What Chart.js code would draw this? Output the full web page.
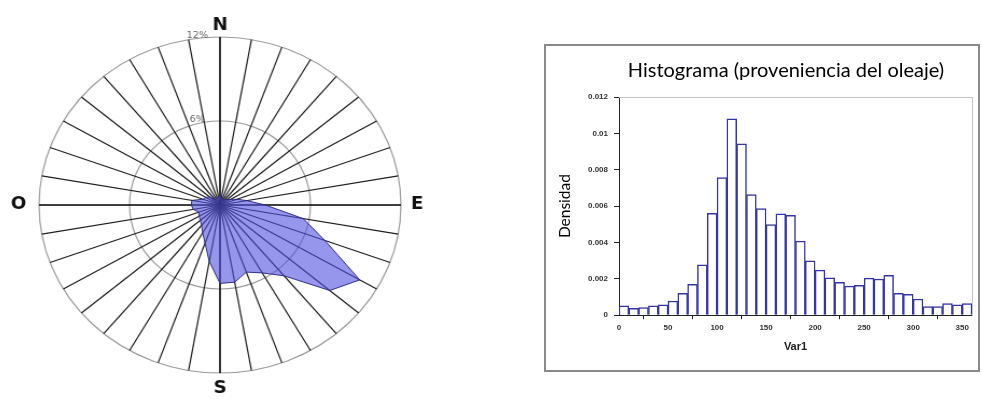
<!DOCTYPE html>
<html>
<head>
<meta charset="utf-8">
<script src="https://cdn.jsdelivr.net/npm/chart.js@4.4.1/dist/chart.umd.min.js"></script>
<style>
  html, body { margin: 0; padding: 0; background: #fff; overflow: hidden; }
  body { width: 982px; height: 399px; position: relative; }
  #roseWrap { position: absolute; left: 20px; top: 0; width: 400px; height: 399px;
              transform: scaleX(1.077); transform-origin: 200px 0; }
  #frame { position: absolute; left: 544px; top: 44px; width: 436px; height: 328px;
           box-sizing: border-box; border: 2px solid #8a8a8a; }
  #hist { position: absolute; left: 546px; top: 46px; }
</style>
</head>
<body>
<div id="roseWrap"><canvas id="rose" width="400" height="399"></canvas></div>
<div id="frame"></div>
<canvas id="hist" width="475" height="324"></canvas>
<script>
// wave direction rose, % per 10 degree sector (0 = N, clockwise)
const directions = ["0", "10", "20", "30", "40", "50", "60", "70", "80", "90", "100", "110",
    "120", "130", "140", "150", "160", "170", "180", "190", "200", "210", "220", "230",
    "240", "250", "260", "270", "280", "290", "300", "310", "320", "330", "340", "350"];
const roseValues = [0.7, 0.5, 0.4, 0.4, 0.5, 0.6, 0.8, 1.2, 1.8, 3.0, 5.6, 7.4,
    10.7, 9.5, 6.6, 5.6, 5.1, 5.6, 5.6, 4.1, 2.9, 2.3, 1.9, 1.7,
    1.6, 1.5, 1.8, 1.9, 1.9, 1.2, 1.1, 0.9, 0.5, 0.5, 0.6, 0.6];
const compassLetters = ["N", "E", "S", "O"];
const compassIndex = [0, 9, 18, 27];
const ringValues = [6, 12];
const ringLabels = ["6%", "12%"];

// histogram, 10 degree bins
const binCenters = [5, 15, 25, 35, 45, 55, 65, 75, 85, 95, 105, 115,
    125, 135, 145, 155, 165, 175, 185, 195, 205, 215, 225, 235,
    245, 255, 265, 275, 285, 295, 305, 315, 325, 335, 345, 355];
const density = [0.00051, 0.00038, 0.00042, 0.00051, 0.00057, 0.00078, 0.0012, 0.0017, 0.00277, 0.0056, 0.00757, 0.0108,
    0.00942, 0.00664, 0.00586, 0.00498, 0.00558, 0.00549, 0.00407, 0.00299, 0.00248, 0.00206, 0.00181, 0.0016,
    0.00164, 0.00204, 0.00199, 0.00219, 0.0012, 0.00115, 0.00089, 0.00047, 0.00047, 0.00064, 0.00057, 0.00064];
const xTickLabels = ["0", "50", "100", "150", "200", "250", "300", "350"];
const yTickLabels = ["0", "0.002", "0.004", "0.006", "0.008", "0.01", "0.012"];

const roseText = {
    id: "roseText",
    afterDraw(chart) {
        const s = chart.scales.r;
        const ctx = chart.ctx;
        ctx.save();
        ctx.textAlign = "center";
        ctx.textBaseline = "middle";
        ctx.fillStyle = "#111";
        ctx.font = "bold 17px 'DejaVu Sans'";
        const gap = [11, 15, 16, 19];
        compassLetters.forEach((l, i) => {
            const p = s.getPointPosition(compassIndex[i], s.drawingArea + gap[i]);
            ctx.fillText(l, p.x, p.y);
        });
        ctx.font = "9px 'DejaVu Sans'";
        ctx.fillStyle = "#666";
        ringValues.forEach((v, i) => {
            ctx.fillText(ringLabels[i], s.xCenter - 21, s.yCenter - s.getDistanceFromCenterForValue(v) - 1);
        });
        ctx.restore();
    }
};

new Chart(document.getElementById("rose"), {
    type: "radar",
    data: {
        labels: directions,
        datasets: [{
            data: roseValues,
            backgroundColor: "rgba(80, 80, 225, 0.6)",
            borderColor: "#2e2e8a",
            borderWidth: 1,
            pointRadius: 0,
            fill: true
        }]
    },
    options: {
        responsive: false,
        animation: false,
        layout: { padding: { top: 37, bottom: 26, left: 32, right: 32 } },
        plugins: { legend: { display: false }, tooltip: { enabled: false } },
        scales: {
            r: {
                min: 0,
                max: 12,
                ticks: { display: false, stepSize: 6 },
                pointLabels: { display: false },
                grid: { circular: true, color: "#9c9c9c", lineWidth: 1.2 },
                angleLines: {
                    color: (c) => (c.index % 9 === 0 ? "#000" : "#1e1e1e"),
                    lineWidth: (c) => (c.index % 9 === 0 ? 1.6 : 1.2)
                }
            }
        }
    },
    plugins: [roseText]
});

// canvas runs past the frame on the right so the title centres where the original does
new Chart(document.getElementById("hist"), {
    type: "bar",
    data: {
        datasets: [{
            data: binCenters.map((x, i) => ({ x: x, y: density[i] })),
            backgroundColor: "#ffffff",
            borderColor: "#3535a8",
            borderWidth: 1.5,
            barPercentage: 1,
            categoryPercentage: 1
        }]
    },
    options: {
        responsive: false,
        animation: false,
        layout: { padding: { left: 5, right: 0, top: 0, bottom: 12 } },
        plugins: {
            legend: { display: false },
            tooltip: { enabled: false },
            title: {
                display: true,
                text: "Histograma (proveniencia del oleaje)",
                color: "#000",
                font: { family: "Lato", size: 20, weight: "normal" },
                padding: { top: 13, bottom: 14 }
            }
        },
        scales: {
            x: {
                type: "linear",
                offset: false,
                min: 0,
                max: 360,
                grid: { drawOnChartArea: false, tickLength: 4, color: "#222" },
                border: { color: "#222", width: 1 },
                ticks: {
                    stepSize: 50,
                    includeBounds: false,
                    padding: 4,
                    color: "#333",
                    font: { family: "Liberation Sans", size: 8, weight: "bold" },
                    callback: (v, i) => xTickLabels[i]
                },
                title: {
                    display: true,
                    text: "Var1",
                    color: "#222",
                    font: { family: "Liberation Sans", size: 11, weight: "bold" },
                    padding: { top: 4, bottom: 4 }
                }
            },
            y: {
                min: 0,
                max: 0.012,
                afterFit: (s) => { s.width = 68; },
                grid: { drawOnChartArea: false, tickLength: 5, color: "#222" },
                border: { color: "#222", width: 1 },
                ticks: {
                    stepSize: 0.002,
                    padding: 6,
                    color: "#333",
                    font: { family: "Liberation Sans", size: 8, weight: "bold" },
                    callback: (v, i) => yTickLabels[i]
                },
                title: {
                    display: true,
                    text: "Densidad",
                    color: "#000",
                    font: { family: "Lato", size: 15.5 },
                    padding: { top: 5, bottom: 0 }
                }
            },
            x2: {
                type: "linear",
                position: "top",
                min: 0,
                max: 360,
                grid: { display: false, drawTicks: false },
                ticks: { display: false },
                border: { color: "#c4c4c4", width: 1 }
            },
            y2: {
                type: "linear",
                position: "right",
                min: 0,
                max: 0.012,
                afterFit: (s) => { s.width = 49; },
                grid: { display: false, drawTicks: false },
                ticks: { display: false },
                border: { color: "#c4c4c4", width: 1 }
            }
        }
    }
});
</script>
</body>
</html>
